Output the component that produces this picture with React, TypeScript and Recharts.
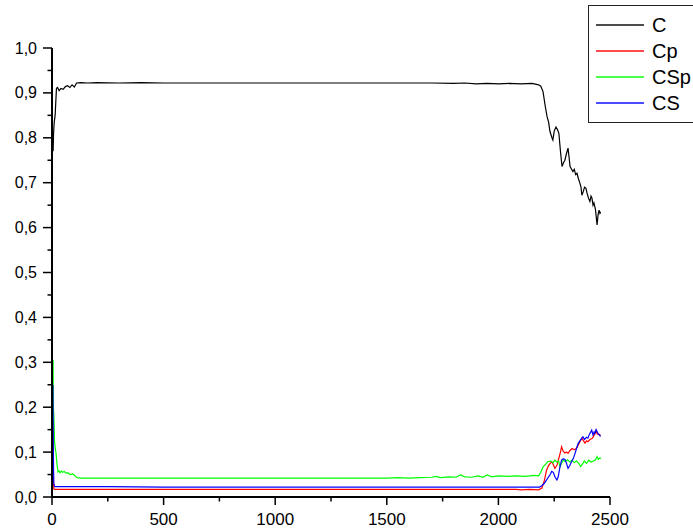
import { LineChart, Line, XAxis, YAxis, Legend } from "recharts";

const cData = [
  [3, 0.8], [5, 0.77], [7, 0.81], [10, 0.835], [14, 0.85], [20, 0.91], [25, 0.912], [32, 0.905],
  [40, 0.91], [50, 0.908], [60, 0.914], [70, 0.916], [80, 0.912], [90, 0.918], [100, 0.913],
  [110, 0.922], [130, 0.923], [160, 0.922], [200, 0.923], [300, 0.922], [400, 0.923], [500, 0.922],
  [800, 0.922], [1100, 0.922], [1400, 0.922], [1700, 0.922], [1800, 0.921], [1850, 0.922],
  [1900, 0.92], [1950, 0.921], [2000, 0.92], [2050, 0.921], [2100, 0.92], [2150, 0.921],
  [2180, 0.918], [2190, 0.915], [2200, 0.903], [2209, 0.873], [2218, 0.847], [2225, 0.835],
  [2231, 0.814], [2240, 0.8], [2244, 0.795], [2250, 0.815], [2258, 0.824], [2265, 0.818],
  [2271, 0.81], [2278, 0.77], [2285, 0.736], [2292, 0.745], [2298, 0.75], [2305, 0.765],
  [2312, 0.777], [2317, 0.755], [2321, 0.736], [2328, 0.73], [2334, 0.725], [2340, 0.73],
  [2346, 0.718], [2352, 0.721], [2358, 0.71], [2365, 0.699], [2370, 0.69], [2374, 0.672],
  [2380, 0.68], [2386, 0.69], [2392, 0.688], [2398, 0.675], [2404, 0.665], [2410, 0.658],
  [2415, 0.67], [2419, 0.666], [2424, 0.65], [2428, 0.655], [2435, 0.64], [2442, 0.606],
  [2447, 0.63], [2451, 0.639], [2455, 0.632], [2458, 0.635],
];

const cpData = [
  [4, 0.17], [6, 0.05], [8, 0.018], [12, 0.017], [500, 0.017], [1000, 0.017], [1500, 0.017],
  [2000, 0.017], [2080, 0.017], [2100, 0.016], [2140, 0.017], [2180, 0.016], [2195, 0.02],
  [2205, 0.035], [2216, 0.06], [2225, 0.07], [2232, 0.075], [2239, 0.079], [2246, 0.072],
  [2253, 0.064], [2262, 0.07], [2270, 0.085], [2278, 0.1], [2283, 0.112], [2290, 0.102],
  [2298, 0.098], [2305, 0.1], [2312, 0.097], [2320, 0.103], [2330, 0.108], [2340, 0.105],
  [2352, 0.11], [2360, 0.118], [2367, 0.125], [2374, 0.131], [2380, 0.126], [2388, 0.12],
  [2395, 0.125], [2401, 0.123], [2410, 0.128], [2419, 0.13], [2425, 0.134], [2431, 0.14],
  [2437, 0.148], [2443, 0.14], [2450, 0.14], [2458, 0.137],
];

const cspData = [
  [5, 0.305], [6, 0.2], [7, 0.194], [9, 0.17], [11, 0.127], [14, 0.11], [18, 0.098], [22, 0.075],
  [27, 0.056], [32, 0.058], [36, 0.054], [42, 0.058], [48, 0.055], [55, 0.057], [62, 0.053],
  [70, 0.054], [78, 0.051], [85, 0.05], [92, 0.052], [99, 0.049], [106, 0.046], [112, 0.043],
  [130, 0.042], [200, 0.042], [400, 0.042], [600, 0.042], [900, 0.042], [1200, 0.042],
  [1500, 0.042], [1550, 0.043], [1600, 0.042], [1650, 0.043], [1700, 0.044], [1720, 0.046],
  [1740, 0.043], [1780, 0.045], [1810, 0.044], [1830, 0.049], [1850, 0.045], [1880, 0.044],
  [1910, 0.047], [1930, 0.044], [1950, 0.049], [1970, 0.045], [2000, 0.047], [2040, 0.046],
  [2080, 0.047], [2120, 0.046], [2160, 0.048], [2180, 0.047], [2190, 0.055], [2200, 0.067],
  [2210, 0.072], [2222, 0.079], [2235, 0.08], [2245, 0.076], [2253, 0.082], [2262, 0.078],
  [2270, 0.08], [2276, 0.067], [2283, 0.075], [2290, 0.082], [2300, 0.079], [2310, 0.083],
  [2320, 0.078], [2330, 0.082], [2340, 0.077], [2350, 0.08], [2360, 0.075], [2368, 0.068],
  [2375, 0.072], [2385, 0.08], [2395, 0.075], [2405, 0.082], [2415, 0.078], [2425, 0.08],
  [2435, 0.083], [2442, 0.09], [2448, 0.084], [2455, 0.087], [2458, 0.085],
];

const csData = [
  [4, 0.25], [6, 0.1], [8, 0.03], [12, 0.023], [100, 0.023], [250, 0.023], [500, 0.022],
  [1000, 0.022], [1500, 0.022], [2000, 0.022], [2150, 0.022], [2185, 0.022], [2194, 0.025],
  [2205, 0.03], [2216, 0.038], [2225, 0.045], [2232, 0.05], [2239, 0.057], [2246, 0.055],
  [2254, 0.044], [2262, 0.038], [2268, 0.045], [2275, 0.065], [2283, 0.082], [2290, 0.085],
  [2298, 0.084], [2305, 0.075], [2312, 0.064], [2320, 0.07], [2328, 0.079], [2335, 0.085],
  [2342, 0.095], [2350, 0.108], [2357, 0.119], [2365, 0.125], [2372, 0.13], [2379, 0.134],
  [2386, 0.128], [2394, 0.133], [2401, 0.131], [2408, 0.14], [2414, 0.145], [2418, 0.149],
  [2424, 0.138], [2429, 0.145], [2433, 0.142], [2438, 0.15], [2442, 0.146], [2446, 0.142],
  [2452, 0.138], [2458, 0.135],
];

const seriesNames = ["C", "Cp", "CSp", "CS"];
const seriesColors = ["#000000", "#ff0000", "#00ff00", "#0000ff"];
const seriesData = [cData, cpData, cspData, csData];

const xTicks = [0, 250, 500, 750, 1000, 1250, 1500, 1750, 2000, 2250, 2500];
const yTicks = [0, 0.05, 0.1, 0.15, 0.2, 0.25, 0.3, 0.35, 0.4, 0.45, 0.5, 0.55, 0.6, 0.65, 0.7, 0.75, 0.8, 0.85, 0.9, 0.95, 1.0];

const font = "'Liberation Sans', Arial, sans-serif";

const toPoints = (arr: number[][]) => arr.map(([x, y]) => ({ x, y }));

function XTick(props: any) {
  const { x, y, payload } = props;
  const major = payload.value % 500 === 0;
  return (
    <g>
      <line x1={x} y1={y} x2={x} y2={y + (major ? 8 : 4.5)} stroke="#000" strokeWidth={1.5} />
      {major && (
        <text x={x} y={y + 28} textAnchor="middle" fontSize={17} fontFamily={font} fill="#000">
          {payload.value}
        </text>
      )}
    </g>
  );
}

function YTick(props: any) {
  const { x, y, payload } = props;
  const i = Math.round(payload.value * 20);
  const major = i % 2 === 0;
  return (
    <g>
      <line x1={x - (major ? 9 : 4.5)} y1={y} x2={x} y2={y} stroke="#000" strokeWidth={1.5} />
      {major && (
        <text x={x - 15} y={y + 5.5} textAnchor="end" fontSize={16} fontFamily={font} fill="#000">
          {(i / 20).toFixed(1).replace(".", ",")}
        </text>
      )}
    </g>
  );
}

function LegendBox(props: any) {
  const payload = [...(props.payload || [])].sort(
    (a: any, b: any) => seriesNames.indexOf(a.value) - seriesNames.indexOf(b.value)
  );
  return (
    <div
      style={{
        boxSizing: "border-box",
        width: 105,
        height: 118,
        border: "1px solid #222",
        borderRight: "none",
        background: "#fff",
        paddingTop: 6,
        fontFamily: font,
      }}
    >
      {payload.map((p: any) => (
        <div key={p.value} style={{ height: 26, display: "flex", alignItems: "center" }}>
          <div style={{ marginLeft: 7, width: 48, height: 1.5, background: p.color, opacity: 0.7 }} />
          <span style={{ marginLeft: 8, fontSize: 20, lineHeight: "26px", color: "#000" }}>{p.value}</span>
        </div>
      ))}
    </div>
  );
}

export default function App() {
  return (
    <div style={{ position: "absolute", left: 0, top: 0, width: 693, height: 531, background: "#fff" }}>
      <LineChart width={693} height={531} margin={{ top: 48, right: 83, bottom: 4, left: 0 }}>
        <XAxis
          type="number"
          dataKey="x"
          domain={[0, 2500]}
          ticks={xTicks}
          interval={0}
          height={30}
          tickSize={0}
          tickMargin={0}
          tickLine={false}
          axisLine={{ stroke: "#000", strokeWidth: 2 }}
          tick={<XTick />}
          allowDataOverflow
        />
        <YAxis
          type="number"
          dataKey="y"
          domain={[0, 1]}
          ticks={yTicks}
          interval={0}
          width={52}
          tickSize={0}
          tickMargin={0}
          tickLine={false}
          axisLine={{ stroke: "#000", strokeWidth: 2 }}
          tick={<YTick />}
          allowDataOverflow
        />
        <Legend
          layout="horizontal"
          verticalAlign="middle"
          align="center"
          width={105}
          wrapperStyle={{ top: 5, left: 588, width: 105 }}
          content={<LegendBox />}
        />
        {seriesNames.map((name, i) => (
          <Line
            key={name}
            name={name}
            data={toPoints(seriesData[i])}
            dataKey="y"
            type="linear"
            stroke={seriesColors[i]}
            strokeWidth={1.2}
            dot={false}
            isAnimationActive={false}
          />
        ))}
      </LineChart>
    </div>
  );
}
